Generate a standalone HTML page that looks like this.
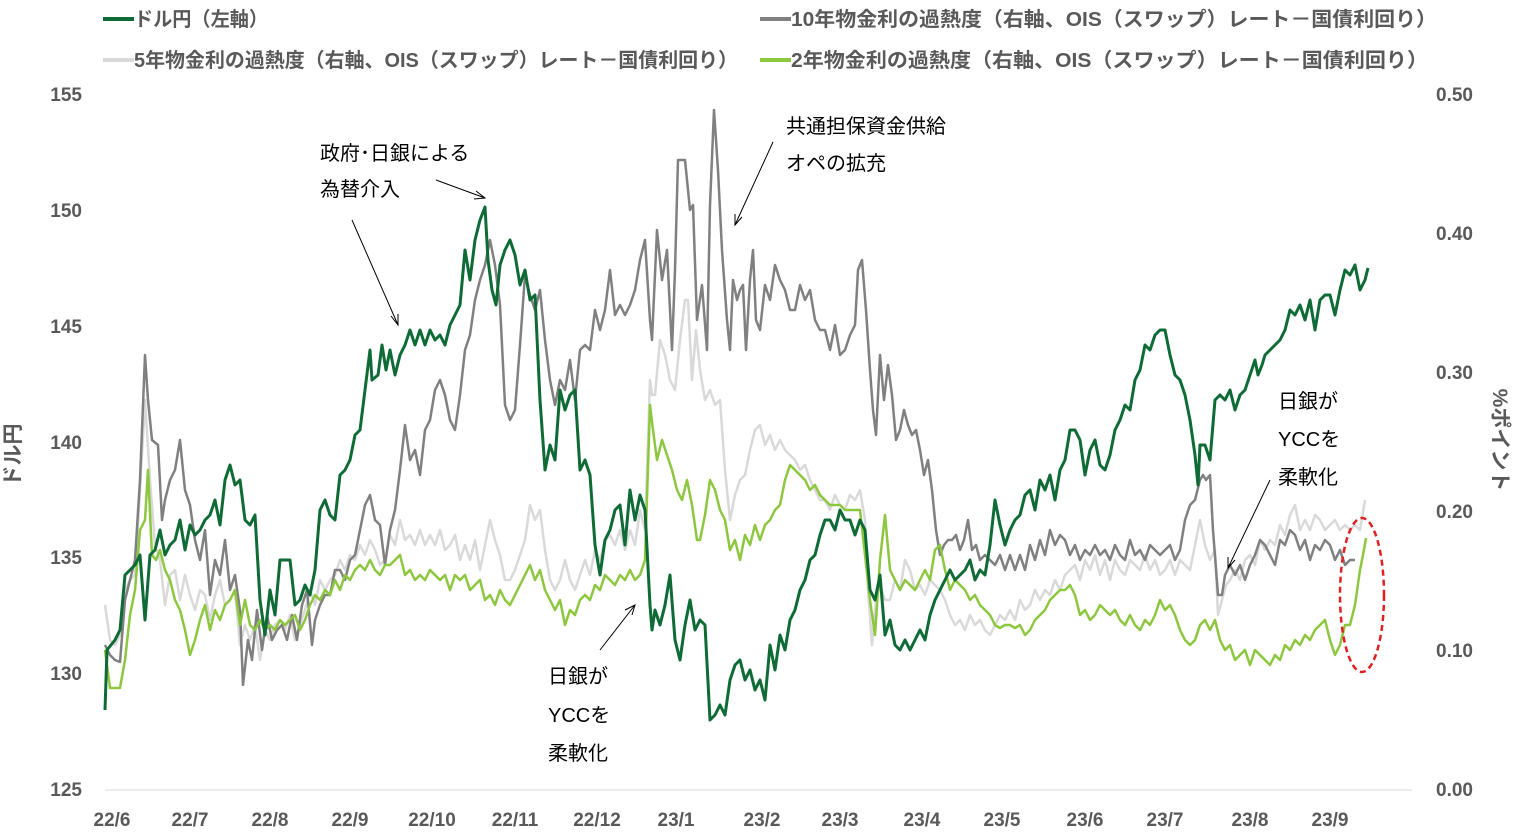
<!DOCTYPE html>
<html><head><meta charset="utf-8"><style>
body{margin:0;background:#fff;}
svg text{font-family:"Liberation Sans","Noto Sans CJK JP",sans-serif;}
</style></head><body>
<svg width="1519" height="832" viewBox="0 0 1519 832" xmlns="http://www.w3.org/2000/svg">
<rect width="1519" height="832" fill="#fff"/>
<line x1="103" y1="19" x2="134" y2="19" stroke="#0e6b35" stroke-width="4"/>
<text x="134" y="26" font-size="20" fill="#595959" font-weight="bold" textLength="134" lengthAdjust="spacingAndGlyphs">ドル円（左軸）</text>
<line x1="760" y1="19" x2="791" y2="19" stroke="#808080" stroke-width="4"/>
<text x="791" y="26" font-size="20" fill="#595959" font-weight="bold" textLength="646" lengthAdjust="spacingAndGlyphs">10年物金利の過熱度（右軸、OIS（スワップ）レート－国債利回り）</text>
<line x1="103" y1="60" x2="134" y2="60" stroke="#d9d9d9" stroke-width="4"/>
<text x="134" y="67" font-size="20" fill="#595959" font-weight="bold" textLength="604" lengthAdjust="spacingAndGlyphs">5年物金利の過熱度（右軸、OIS（スワップ）レート－国債利回り）</text>
<line x1="760" y1="60" x2="791" y2="60" stroke="#8dc63f" stroke-width="4"/>
<text x="791" y="67" font-size="20" fill="#595959" font-weight="bold" textLength="637" lengthAdjust="spacingAndGlyphs">2年物金利の過熱度（右軸、OIS（スワップ）レート－国債利回り）</text>
<g font-size="19" fill="#595959" font-weight="bold" text-anchor="end">
<text x="82" y="101">155</text><text x="82" y="217">150</text><text x="82" y="333">145</text><text x="82" y="449">140</text><text x="82" y="564">135</text><text x="82" y="680">130</text><text x="82" y="796">125</text>
</g>
<g font-size="19" fill="#595959" font-weight="bold" text-anchor="start">
<text x="1436" y="101">0.50</text><text x="1436" y="240">0.40</text><text x="1436" y="379">0.30</text><text x="1436" y="518">0.20</text><text x="1436" y="657">0.10</text><text x="1436" y="796">0.00</text>
</g>
<text transform="translate(20,455) rotate(-90)" font-size="21" fill="#595959" font-weight="bold" text-anchor="middle">ドル円</text>
<text transform="translate(1493,440) rotate(90)" font-size="21" fill="#595959" font-weight="bold" text-anchor="middle">%ポイント</text>
<line x1="105" y1="790" x2="1412" y2="790" stroke="#d9d9d9" stroke-width="1"/>
<g font-size="19" fill="#595959" font-weight="bold" text-anchor="middle">
<text x="112" y="826">22/6</text><text x="190" y="826">22/7</text><text x="270" y="826">22/8</text><text x="350" y="826">22/9</text><text x="432" y="826">22/10</text><text x="515" y="826">22/11</text><text x="597" y="826">22/12</text><text x="676" y="826">23/1</text><text x="762" y="826">23/2</text><text x="840" y="826">23/3</text><text x="922" y="826">23/4</text><text x="1002" y="826">23/5</text><text x="1085" y="826">23/6</text><text x="1165" y="826">23/7</text><text x="1250" y="826">23/8</text><text x="1330" y="826">23/9</text>
</g>
<g fill="none" stroke-width="2.5" stroke-linejoin="round">
<polyline stroke="#d9d9d9" points="105,605 110,640 115,645 120,635 125,590 130,580 135,575 140,490 145,400 150,480 155,545 160,560 165,605 170,575 175,570 180,600 185,575 190,595 195,610 200,590 205,595 210,620 215,595 220,580 225,605 230,600 235,590 240,645 245,625 250,640 255,625 260,660 265,630 270,640 275,625 280,620 285,630 290,615 295,640 300,625 305,610 310,590 315,605 320,580 325,590 330,580 335,575 340,560 345,570 350,555 355,560 360,545 365,555 370,540 375,550 380,565 385,560 390,535 395,545 400,520 405,540 410,535 415,545 420,530 425,545 430,535 435,545 440,530 445,550 450,545 455,535 460,560 465,545 470,560 475,540 480,570 485,545 490,520 495,540 500,555 505,580 510,580 515,570 520,555 525,540 530,505 535,520 540,510 545,550 550,580 555,590 560,580 565,560 570,580 575,590 580,575 585,560 590,575 595,550 600,560 605,540 610,535 615,545 620,530 625,550 630,530 635,545 640,510 645,530 650,380 652,395 655,395 660,340 665,355 670,380 675,390 680,340 685,300 688,300 692,380 696,330 700,370 705,400 710,390 715,405 720,400 725,470 730,520 735,495 740,480 745,475 750,450 755,430 760,425 765,445 770,435 775,450 780,440 785,450 790,455 795,460 800,470 805,465 810,480 815,490 820,500 825,500 830,510 835,495 840,505 845,510 850,495 855,500 860,490 865,520 868,590 872,645 876,600 880,585 885,600 890,600 895,580 900,590 905,560 910,570 915,590 920,585 925,595 930,580 935,585 940,590 945,600 950,615 955,625 960,620 965,630 970,615 975,625 980,620 985,630 990,635 995,625 1000,615 1005,620 1010,610 1015,620 1020,600 1025,610 1030,605 1035,590 1040,600 1045,590 1050,595 1055,580 1060,590 1065,575 1070,570 1075,565 1080,580 1085,560 1090,570 1095,555 1100,575 1105,560 1110,580 1115,560 1120,570 1125,575 1130,560 1135,565 1140,570 1145,555 1150,570 1155,560 1160,575 1165,570 1170,560 1175,575 1180,560 1185,565 1190,570 1195,545 1200,520 1205,545 1210,560 1215,550 1218,615 1222,600 1226,585 1230,580 1235,570 1240,580 1245,560 1250,555 1255,565 1260,540 1265,550 1270,540 1275,545 1280,525 1285,535 1290,515 1295,505 1300,530 1305,520 1310,530 1315,515 1320,520 1325,530 1330,525 1335,520 1340,530 1345,525 1350,530 1355,525 1360,530 1365,500"/>
<polyline stroke="#808080" points="105,645 110,655 115,660 120,662 125,600 130,580 135,560 140,480 145,355 148,400 152,440 158,445 162,520 165,500 170,480 175,470 180,440 185,490 190,505 195,540 200,560 205,530 210,595 215,560 220,575 225,540 230,590 235,575 240,610 243,685 248,640 252,660 257,610 262,650 267,615 272,640 277,630 282,625 287,640 292,615 297,640 302,605 307,590 312,645 315,620 320,605 325,595 330,595 335,570 340,570 345,580 350,560 355,555 360,530 365,505 370,495 375,520 380,525 385,565 390,530 395,510 400,470 405,425 410,460 415,450 420,475 425,430 430,420 435,390 440,380 445,395 450,420 455,430 460,395 465,350 470,335 475,300 480,280 485,265 490,240 495,265 500,305 505,405 510,420 515,410 520,345 525,275 530,295 535,310 540,290 545,340 550,380 555,405 560,380 565,390 570,360 575,400 580,350 585,345 590,350 595,310 600,330 605,310 610,270 615,315 620,305 625,315 630,305 635,290 640,260 645,240 650,320 652,340 657,230 662,280 667,250 672,350 675,270 678,160 685,160 690,210 693,205 697,320 702,285 707,350 710,205 714,110 718,170 722,250 727,320 730,350 733,280 737,300 740,290 743,285 746,350 750,280 753,250 756,320 760,330 765,285 770,300 775,265 780,280 785,290 790,310 795,310 800,285 805,300 810,290 815,320 820,330 825,330 830,350 835,325 840,355 845,350 850,335 855,325 858,270 862,260 866,310 870,370 873,410 876,435 880,355 884,400 888,365 892,395 896,440 900,430 904,410 908,425 912,435 916,430 920,450 924,475 928,460 932,490 936,530 940,555 944,545 948,540 952,540 956,535 960,550 964,540 968,520 972,550 976,545 980,560 985,555 990,560 995,565 1000,555 1005,570 1010,555 1015,570 1020,555 1025,570 1030,545 1035,560 1040,540 1045,555 1050,530 1055,545 1060,535 1065,540 1070,555 1075,545 1080,560 1085,550 1090,555 1095,545 1100,555 1105,550 1110,560 1115,545 1120,555 1125,560 1130,540 1135,555 1140,550 1145,560 1150,545 1155,550 1160,555 1165,550 1170,545 1175,560 1180,550 1185,520 1190,505 1195,500 1200,480 1203,475 1206,480 1210,475 1213,530 1218,595 1222,595 1225,575 1230,565 1235,575 1240,565 1245,580 1250,565 1255,555 1260,540 1265,545 1270,555 1275,565 1280,540 1285,545 1290,530 1295,535 1300,550 1305,540 1310,560 1315,545 1320,550 1325,540 1330,545 1335,560 1340,550 1345,565 1350,560 1355,560"/>
<polyline stroke="#8dc63f" points="105,650 110,688 115,688 120,688 125,660 130,615 135,590 140,530 145,520 148,470 152,555 156,560 160,550 165,570 170,580 175,600 180,610 185,630 190,655 195,640 200,620 205,605 210,630 215,610 220,620 225,605 230,600 235,590 240,625 245,600 250,625 255,630 260,620 265,630 270,625 275,630 280,620 285,625 290,620 295,615 300,630 305,620 310,605 315,595 320,600 325,590 330,595 335,580 340,590 345,575 350,580 355,570 360,565 365,570 370,560 375,570 380,575 385,565 390,565 395,560 400,555 405,575 410,570 415,580 420,575 425,580 430,570 435,575 440,580 445,575 450,590 455,575 460,580 465,575 470,590 475,585 480,580 485,600 490,595 495,605 500,590 505,600 510,605 515,595 520,585 525,575 530,565 535,580 540,570 545,590 550,600 555,610 560,600 565,625 570,610 575,615 580,600 585,595 590,600 595,585 600,590 605,575 610,580 615,585 620,575 625,580 630,570 635,580 640,575 645,560 650,405 653,430 657,460 662,440 667,455 672,470 677,490 682,500 687,480 692,505 697,540 700,540 705,515 710,480 715,490 720,510 725,520 730,550 735,540 740,560 745,535 750,545 755,525 760,540 765,525 770,520 775,510 780,505 785,480 790,465 795,470 800,475 805,480 810,490 815,485 820,495 825,500 830,505 835,505 840,505 845,510 850,510 855,510 860,510 865,555 870,600 875,635 880,560 885,515 890,570 895,580 900,590 905,580 910,585 915,590 920,580 925,570 930,580 935,550 940,545 945,570 950,590 955,580 960,585 965,590 970,600 975,595 980,605 985,610 990,615 995,625 1000,628 1005,625 1010,625 1015,628 1020,625 1025,635 1030,630 1035,620 1040,615 1045,610 1050,600 1055,595 1060,590 1065,590 1070,585 1075,595 1080,615 1085,610 1090,620 1095,615 1100,605 1105,610 1110,615 1115,610 1120,620 1125,625 1130,615 1135,625 1140,630 1145,620 1150,625 1155,615 1160,600 1165,610 1170,605 1175,615 1180,630 1185,640 1190,645 1195,640 1200,625 1205,620 1210,630 1215,620 1220,640 1225,650 1230,645 1235,660 1240,655 1245,650 1250,665 1255,650 1260,655 1265,660 1270,665 1275,655 1280,660 1285,645 1290,650 1295,640 1300,645 1305,635 1310,640 1315,630 1320,625 1325,620 1330,640 1335,655 1340,645 1345,625 1350,625 1355,605 1360,570 1363,555 1366,538"/>
<polyline stroke="#0e6b35" stroke-width="3" points="105,710 107,650 115,640 120,630 125,575 130,570 135,565 140,555 145,620 150,555 155,550 160,530 165,555 170,545 175,540 180,520 185,550 190,525 195,535 200,530 205,520 210,515 215,500 220,525 225,480 230,465 235,485 240,480 245,520 250,525 255,515 260,600 265,635 270,590 275,615 280,560 285,560 290,560 295,605 300,600 305,585 310,595 315,570 320,510 325,500 330,515 335,520 340,475 345,470 350,460 355,435 360,430 365,390 370,350 372,380 378,375 382,345 386,370 390,350 395,375 400,355 405,345 410,330 415,345 420,330 425,345 430,330 435,340 440,335 445,345 450,325 455,315 460,305 465,250 470,280 475,240 480,220 485,207 488,260 492,290 496,305 500,265 505,250 510,240 515,255 520,285 525,270 530,300 535,295 540,400 545,470 550,445 555,460 560,390 565,410 570,395 575,390 580,470 585,460 590,475 595,545 600,575 605,540 610,530 615,510 620,505 625,545 630,490 635,520 640,495 645,510 650,605 652,630 655,610 660,625 665,605 670,575 675,640 680,660 685,625 690,600 695,630 700,620 705,625 710,720 715,715 720,705 725,715 730,680 735,665 740,660 745,680 750,670 755,690 760,680 765,700 770,645 775,670 780,635 785,650 790,620 795,610 800,590 805,580 810,560 815,555 820,535 825,520 830,520 835,530 840,510 845,520 850,520 855,535 860,520 865,530 870,590 875,600 880,575 885,635 890,620 895,645 900,650 905,640 910,650 915,640 920,630 925,640 930,615 935,600 940,590 945,580 950,570 955,580 960,575 965,570 970,560 975,580 980,570 985,575 990,545 995,500 1000,525 1005,545 1010,530 1015,520 1020,515 1025,495 1030,490 1035,510 1040,480 1045,490 1050,475 1055,500 1060,470 1065,460 1070,430 1075,430 1080,440 1085,475 1090,450 1095,440 1100,465 1105,470 1110,455 1115,430 1120,420 1125,405 1130,410 1135,380 1140,370 1145,345 1150,350 1155,335 1160,330 1165,330 1170,355 1175,375 1180,380 1185,395 1190,420 1195,455 1198,485 1200,445 1205,445 1210,460 1215,400 1220,395 1225,400 1230,390 1235,410 1240,395 1245,390 1250,375 1255,360 1258,375 1262,365 1265,355 1270,350 1275,345 1280,340 1285,330 1290,310 1295,315 1300,305 1305,320 1310,300 1315,330 1320,300 1325,295 1330,295 1335,315 1340,290 1345,270 1350,275 1355,265 1360,290 1365,280 1368,268"/>
</g>
<ellipse cx="1362" cy="595" rx="22" ry="77" fill="none" stroke="#e02020" stroke-width="2.5" stroke-dasharray="6,4"/>
<g font-size="20" fill="#000">
<text x="320" y="160">政府･日銀による</text>
<text x="320" y="196">為替介入</text>
<text x="786" y="133">共通担保資金供給</text>
<text x="786" y="170">オペの拡充</text>
<text x="548" y="683">日銀が</text><text x="548" y="722">YCCを</text><text x="548" y="760">柔軟化</text>
<text x="1278" y="408">日銀が</text><text x="1278" y="446">YCCを</text><text x="1278" y="484">柔軟化</text>
</g>
<g stroke="#000" stroke-width="1" fill="none">
<line x1="436" y1="180" x2="485" y2="198"/><polyline points="476,191 485,198 474,199"/>
<line x1="352" y1="220" x2="398" y2="325"/><polyline points="391,316 398,325 398,314"/>
<line x1="773" y1="142" x2="735" y2="225"/><polyline points="735,214 735,225 742,217"/>
<line x1="600" y1="650" x2="635" y2="605"/><polyline points="625,610 635,605 632,615"/>
<line x1="1270" y1="480" x2="1228" y2="568"/><polyline points="1228,557 1228,568 1235,560"/>
</g>
</svg>
</body></html>
